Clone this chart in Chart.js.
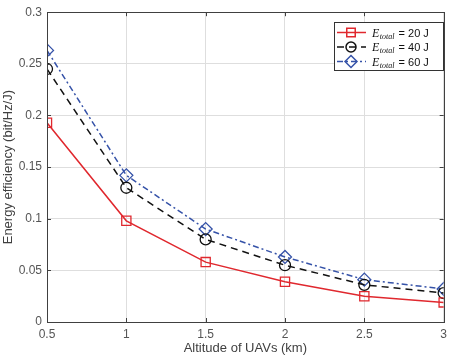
<!DOCTYPE html>
<html>
<head>
<meta charset="utf-8">
<script src="https://cdn.jsdelivr.net/npm/chart.js@4"></script>
<style>
  html, body { margin: 0; padding: 0; background: #fff; }
  #wrap { width: 452px; height: 356px; }
</style>
</head>
<body>
<div id="wrap"><canvas id="chart" width="452" height="356"></canvas></div>
<script>
// Values
const altitudes = [0.5, 1, 1.5, 2, 2.5, 3];
const ee20 = [0.193, 0.098, 0.058, 0.039, 0.025, 0.019];
const ee40 = [0.245, 0.130, 0.080, 0.055, 0.036, 0.028];
const ee60 = [0.263, 0.142, 0.090, 0.063, 0.041, 0.032];
const energyTotals = ["20", "40", "60"];
const xTicks = [0.5, 1, 1.5, 2, 2.5, 3];
const yTicks = [0, 0.05, 0.1, 0.15, 0.2, 0.25, 0.3];

const AXIS = "#404040";
const TICK_TEXT = "#555555";
const SANS = "'Liberation Sans', Arial, sans-serif";

const styles = [
  { color: "#e0282e", dash: [], point: "rect", radius: 6.5 },
  { color: "#111111", dash: [7, 5], point: "circle", radius: 5.5 },
  { color: "#3552a8", dash: [6, 3, 2, 3], point: "rectRot", radius: 6.5 },
];

const series = [ee20, ee40, ee60];

const toPoints = (vals) => vals.map((v, i) => ({ x: altitudes[i], y: v }));

// MATLAB-style box with inward ticks
const boxPlugin = {
  id: "box",
  afterDatasetsDraw(chart) {
    const { ctx, chartArea: a, scales } = chart;
    ctx.save();
    ctx.strokeStyle = AXIS;
    ctx.lineWidth = 1;
    ctx.beginPath();
    xTicks.forEach((t) => {
      const px = Math.round(scales.x.getPixelForValue(t)) + 0.5;
      ctx.moveTo(px, a.bottom); ctx.lineTo(px, a.bottom - 4);
      ctx.moveTo(px, a.top); ctx.lineTo(px, a.top + 4);
    });
    yTicks.forEach((t) => {
      const py = Math.round(scales.y.getPixelForValue(t)) + 0.5;
      ctx.moveTo(a.left, py); ctx.lineTo(a.left + 4, py);
      ctx.moveTo(a.right, py); ctx.lineTo(a.right - 4, py);
    });
    ctx.stroke();
    ctx.strokeRect(Math.round(a.left) + 0.5, Math.round(a.top) + 0.5,
      Math.round(a.right - a.left), Math.round(a.bottom - a.top));
    ctx.restore();
  },
};

// Legend drawn inside the plot, top right
const legendPlugin = {
  id: "insideLegend",
  afterDraw(chart) {
    const { ctx } = chart;
    const bx = 334, by = 22, bw = 109, bh = 48;
    ctx.save();
    ctx.fillStyle = "#fff";
    ctx.fillRect(bx, by, bw, bh);
    ctx.strokeStyle = "#333";
    ctx.lineWidth = 1;
    ctx.strokeRect(bx + 0.5, by + 0.5, bw, bh);

    styles.forEach((s, i) => {
      const y = by + 10.5 + i * 14.5;
      ctx.strokeStyle = s.color;
      ctx.lineWidth = 1.5;
      ctx.setLineDash(s.dash);
      ctx.beginPath();
      ctx.moveTo(bx + 3, y);
      ctx.lineTo(bx + 32, y);
      ctx.stroke();
      ctx.setLineDash([]);
      ctx.fillStyle = "rgba(0,0,0,0)";
      Chart.helpers.drawPoint(ctx, {
        pointStyle: s.point, radius: s.radius - 0.5, rotation: 0, borderWidth: 1.5,
      }, bx + 17, y);

      let tx = bx + 38;
      ctx.fillStyle = "#111";
      ctx.textBaseline = "alphabetic";
      ctx.font = "italic 12px 'Liberation Serif', 'Times New Roman', serif";
      ctx.fillText("E", tx, y + 4);
      tx += ctx.measureText("E").width + 0.5;
      ctx.font = "italic 8px 'Liberation Serif', 'Times New Roman', serif";
      ctx.fillText("total", tx, y + 6);
      tx += ctx.measureText("total").width + 1;
      ctx.font = "11px " + SANS;
      ctx.fillText(" = " + energyTotals[i] + " J", tx, y + 4);
    });
    ctx.restore();
  },
};

new Chart(document.getElementById("chart"), {
  type: "line",
  data: {
    datasets: series.map((vals, i) => ({
      label: "E_total = " + energyTotals[i] + " J",
      data: toPoints(vals),
      borderColor: styles[i].color,
      backgroundColor: "rgba(0,0,0,0)",
      borderWidth: 1.5,
      borderDash: styles[i].dash,
      pointStyle: styles[i].point,
      pointRadius: styles[i].radius,
      pointBorderWidth: 1.3,
      pointBorderColor: styles[i].color,
      pointBackgroundColor: "rgba(0,0,0,0)",
      tension: 0,
    })),
  },
  options: {
    responsive: false,
    animation: false,
    layout: { padding: { top: 10, right: 7, left: 0, bottom: 0 } },
    plugins: { legend: { display: false }, tooltip: { enabled: false } },
    scales: {
      x: {
        type: "linear",
        min: 0.5,
        max: 3,
        afterFit: (s) => { s.height = 34; },
        afterBuildTicks: (s) => { s.ticks = xTicks.map((v) => ({ value: v })); },
        ticks: {
          padding: 5,
          color: TICK_TEXT,
          font: { family: SANS, size: 12 },
          callback: (v) => String(v),
        },
        grid: { color: "#dedede", drawTicks: false },
        border: { color: AXIS },
        title: {
          display: true,
          text: "Altitude of UAVs (km)",
          color: "#404040",
          font: { family: SANS, size: 13 },
          padding: { top: 0, bottom: 0 },
        },
      },
      y: {
        min: 0,
        max: 0.3,
        afterFit: (s) => { s.width = 47; },
        afterBuildTicks: (s) => { s.ticks = yTicks.map((v) => ({ value: v })); },
        ticks: {
          padding: 5,
          color: TICK_TEXT,
          font: { family: SANS, size: 12 },
          callback: (v) => String(Number(v.toFixed(2))),
        },
        grid: { color: "#dedede", drawTicks: false },
        border: { color: AXIS },
        title: {
          display: true,
          text: "Energy efficiency (bit/Hz/J)",
          color: "#404040",
          font: { family: SANS, size: 13 },
          padding: { top: 1, bottom: 0 },
        },
      },
    },
  },
  plugins: [boxPlugin, legendPlugin],
});
</script>
</body>
</html>
